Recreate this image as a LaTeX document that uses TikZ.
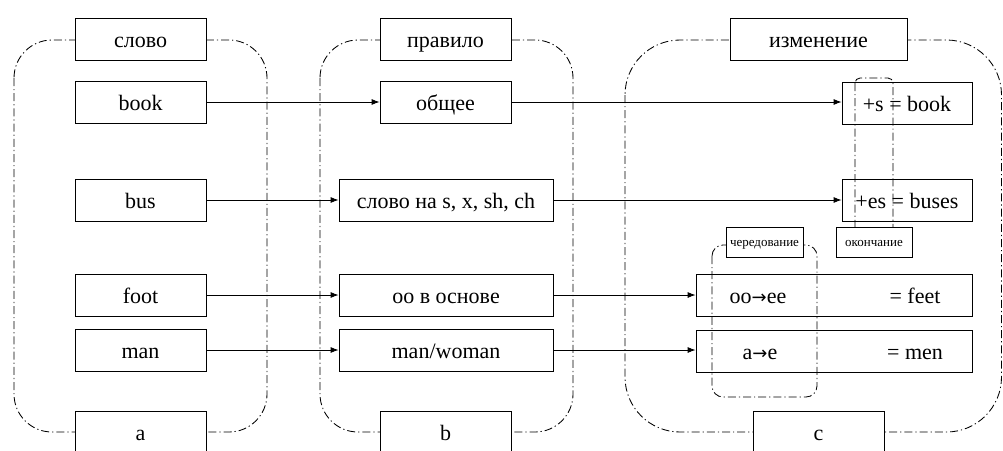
\documentclass[tikz,border=0pt]{standalone}
\usepackage{fontspec}
\setmainfont{Liberation Serif}
\newfontfamily\arrowfont{DejaVu Sans}
\newcommand{\ra}{{\arrowfont\fontsize{18}{20}\selectfont →}}
\usetikzlibrary{arrows.meta}
\begin{document}
\begin{tikzpicture}[x=1pt,y=-1pt,
  box/.style={draw,fill=white,line width=0.8pt,minimum height=42pt,inner sep=0pt,text height=16pt,text depth=0pt,font=\fontsize{22}{24}\selectfont},
  small/.style={draw,fill=white,line width=0.8pt,minimum height=30pt,minimum width=76pt,inner sep=0pt,text height=8.5pt,text depth=0pt,font=\fontsize{13}{14}\selectfont},
  plain/.style={inner sep=0pt,text height=16pt,text depth=0pt,font=\fontsize{22}{24}\selectfont},
  grp/.style={line width=0.85pt,dash pattern=on 8pt off 3pt on 1.2pt off 3pt},
  arr/.style={line width=0.8pt,-{Latex[length=8pt,width=6pt]}}]
\useasboundingbox (0,0) rectangle (1003,450);
\clip (0,0) rectangle (1003,450);
% group frames
\draw[grp,rounded corners=38pt] (14,40) rectangle (267,432);
\draw[grp,rounded corners=38pt] (320,40) rectangle (573,432);
\draw[grp,rounded corners=55pt] (625,40) rectangle (1001.5,432);
% nodes
\node[box,minimum width=131pt] (t1) at (140.5,39) {слово};
\node[box,minimum width=131pt] (w1) at (140.5,102) {book};
\node[box,minimum width=131pt] (w2) at (140.5,200) {bus};
\node[box,minimum width=131pt] (w3) at (140.5,295) {foot};
\node[box,minimum width=131pt] (w4) at (140.5,350) {man};
\node[box,minimum width=131pt] (a) at (140.5,432) {a};
\node[box,minimum width=131pt] (t2) at (445.5,39) {правило};
\node[box,minimum width=131pt] (r1) at (445.5,102) {общее};
\node[box,minimum width=214pt] (r2) at (446,200) {слово на s, x, sh, ch};
\node[box,minimum width=214pt] (r3) at (446,295) {оо в основе};
\node[box,minimum width=214pt] (r4) at (446,350) {man/woman};
\node[box,minimum width=131pt] (b) at (445.5,432) {b};
\node[box,minimum width=177pt] (t3) at (818.5,39) {изменение};
\node[box,minimum width=130pt] (c1) at (907,103) {+s = book};
\node[box,minimum width=130pt] (c2) at (907,200) {+es = buses};
\node[box,minimum width=276pt] (c3) at (834,295) {};
\node[box,minimum width=276pt] (c4) at (834,351) {};
\node[plain] (c3a) at (758,295) {oo\ra ee};
\node[plain] (c3b) at (915,295) {= feet};
\node[plain] (c4a) at (760,351) {a\ra e};
\node[plain] (c4b) at (915,351) {= men};
\node[box,minimum width=131pt] (c) at (818.5,432) {c};
% inner frames
\draw[grp,rounded corners=5pt] (855,78) rectangle (893,232);
\draw[grp,rounded corners=11pt] (712,245) rectangle (817,397);
\node[small] (ok) at (874,242) {окончание};
\node[small,minimum width=77pt] (ch) at (764.5,242) {чередование};
% arrows
\draw[arr] (w1) -- (r1);
\draw[arr] (r1) -- (c1.west |- r1);
\draw[arr] (w2) -- (r2);
\draw[arr] (r2) -- (c2);
\draw[arr] (w3) -- (r3);
\draw[arr] (r3) -- (c3);
\draw[arr] (w4) -- (r4);
\draw[arr] (r4) -- (c4.west |- r4);
\end{tikzpicture}
\end{document}
